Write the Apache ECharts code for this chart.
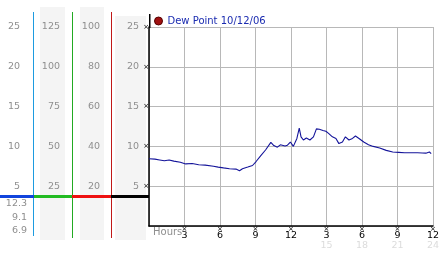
<!DOCTYPE html>
<html><head><meta charset="utf-8">
<script src="https://cdn.jsdelivr.net/npm/echarts@6/dist/echarts.min.js"></script>
<style>html,body{margin:0;padding:0;background:#fff}#c{width:442px;height:253px}</style>
</head><body><div id="c"></div>
<script>
const seriesName = 'Dew Point 10/12/06';
const hours = [0,0.5,0.9,1.3,1.7,2.1,2.65,3.1,3.65,4.2,4.75,5.45,5.85,6.3,6.8,7.35,7.65,7.9,8.35,8.75,9.05,9.45,9.85,10.3,10.55,10.85,11.1,11.5,11.7,11.95,12.2,12.5,12.7,12.85,13.05,13.3,13.6,13.9,14.15,14.4,14.7,14.95,15.2,15.5,15.8,16.05,16.35,16.6,16.9,17.2,17.45,17.75,18.15,18.55,18.95,19.5,20.05,20.6,21.1,21.6,22.2,22.7,23.1,23.4,23.7,23.85];
const dewPoint = [8.45,8.4,8.3,8.2,8.3,8.15,8.0,7.8,7.85,7.7,7.65,7.5,7.4,7.3,7.2,7.15,6.95,7.2,7.4,7.6,8.1,8.85,9.55,10.5,10.1,9.9,10.2,10.05,10.15,10.55,10.0,11.0,12.3,11.2,10.8,11.05,10.8,11.2,12.2,12.15,12.0,11.9,11.6,11.2,11.0,10.35,10.55,11.2,10.8,11.0,11.3,11.0,10.55,10.2,10.0,9.8,9.5,9.3,9.25,9.2,9.2,9.2,9.18,9.15,9.3,9.1];
const xTickLabels = ['Hours','3','6','9','12','3','6','9','12'];
const xFaintLabels = ['','','','','','15','18','21','24'];
const scaleMax = [25, 125, 100, 25]; // left panels: col1, col2, col3, col4
const statLabels = ['12.3','9.1','6.9'];

const FONT = 'DejaVu Sans';
const gray = '#8f8f8f';
const chart = echarts.init(document.getElementById('c'), null, {renderer:'canvas'});

function scaleAxis(max, offset) {
  return {
    type:'value', position:'left', min:0, max:max, interval:max/5, offset:offset,
    axisLine:{show:false}, axisTick:{show:false}, splitLine:{show:false},
    axisLabel:{margin:0, color:gray, fontSize:9.5, fontFamily:FONT,
      formatter: v => v === 0 ? '' : String(v)}
  };
}

const gfx = [];
[[40,7,25,233],[80,7,24,233],[115,16,31,224]].forEach(r => gfx.push({
  type:'rect', z:-10, shape:{x:r[0],y:r[1],width:r[2],height:r[3]}, style:{fill:'#f4f4f4'}, silent:true}));
[[33,12,236,'#1d9be0'],[72,12,238,'#22aa22'],[111,12,238,'#c01818']].forEach(l => gfx.push({
  type:'rect', z:5, shape:{x:l[0],y:l[1],width:1,height:l[2]-l[1]}, style:{fill:l[3]}, silent:true}));
[[0,34,'#1144dd'],[34,72,'#22bb22'],[72,111,'#ee1111'],[111,149,'#000']].forEach(l => gfx.push({
  type:'rect', z:6, shape:{x:l[0],y:195,width:l[1]-l[0],height:3}, style:{fill:l[2]}, silent:true}));
gfx.push({type:'rect', z:6, shape:{x:149,y:14,width:1.5,height:14}, style:{fill:'#000'}, silent:true});
statLabels.forEach((s,i) => gfx.push({type:'text', z:6, style:{text:s, x:27, y:204+i*13.5, textAlign:'right', textVerticalAlign:'middle', fill:gray, font:'9.5px "'+FONT+'"'}}));
gfx.push({type:'text', z:6, style:{text:xTickLabels[0], x:153, y:232, textAlign:'left', textVerticalAlign:'middle', fill:gray, font:'10px "'+FONT+'"'}});

chart.setOption({
  backgroundColor:'#fff',
  animation:false,
  grid:{left:149, right:3, top:27, height:199, containLabel:false},
  legend:{
    left:154, top:16, padding:0, itemWidth:8, itemHeight:8, icon:'circle',
    textStyle:{color:'#1a2bb0', fontSize:10, fontFamily:FONT},
    data:[{name:seriesName, itemStyle:{color:'#a01010', borderColor:'#500', borderWidth:1}}]
  },
  xAxis:{
    type:'value', min:0, max:24, interval:3,
    axisLine:{lineStyle:{color:'#000', width:1.5}},
    axisTick:{show:false},
    splitLine:{show:true, lineStyle:{color:'#b8b8b8', width:1}},
    axisLabel:{margin:1, showMaxLabel:true,
      formatter: v => {
        const i = Math.round(v/3);
        if (i === 0) return '';
        let s = '{x|×}\n{n|' + xTickLabels[i] + '}';
        if (xFaintLabels[i]) s += '\n{f|' + xFaintLabels[i] + '}';
        return s;
      },
      rich:{
        x:{fontSize:7, lineHeight:5, color:'#000', fontFamily:FONT},
        n:{fontSize:9.5, lineHeight:8, color:'#000', fontFamily:FONT},
        f:{fontSize:9.5, lineHeight:12, color:'#dcdcdc', fontFamily:FONT}
      }}
  },
  yAxis:[
    {type:'value', min:0, max:25, interval:5,
      axisLine:{show:true, lineStyle:{color:'#000', width:1.5}},
      axisTick:{show:false},
      splitLine:{show:true, lineStyle:{color:'#b8b8b8', width:1}},
      axisLabel:{margin:0, fontSize:7, color:'#000', fontFamily:FONT, formatter: v => v===0 ? '' : '×'}},
    scaleAxis(scaleMax[3], 10),
    scaleAxis(scaleMax[2], 49),
    scaleAxis(scaleMax[1], 89),
    scaleAxis(scaleMax[0], 129)
  ],
  series:[{
    name:seriesName, type:'line', showSymbol:false, symbol:'none',
    data: hours.map((h,i) => [h, dewPoint[i]]),
    lineStyle:{color:'#14149a', width:1.1}, itemStyle:{color:'#14149a'}
  }],
  graphic: gfx
});
</script></body></html>
